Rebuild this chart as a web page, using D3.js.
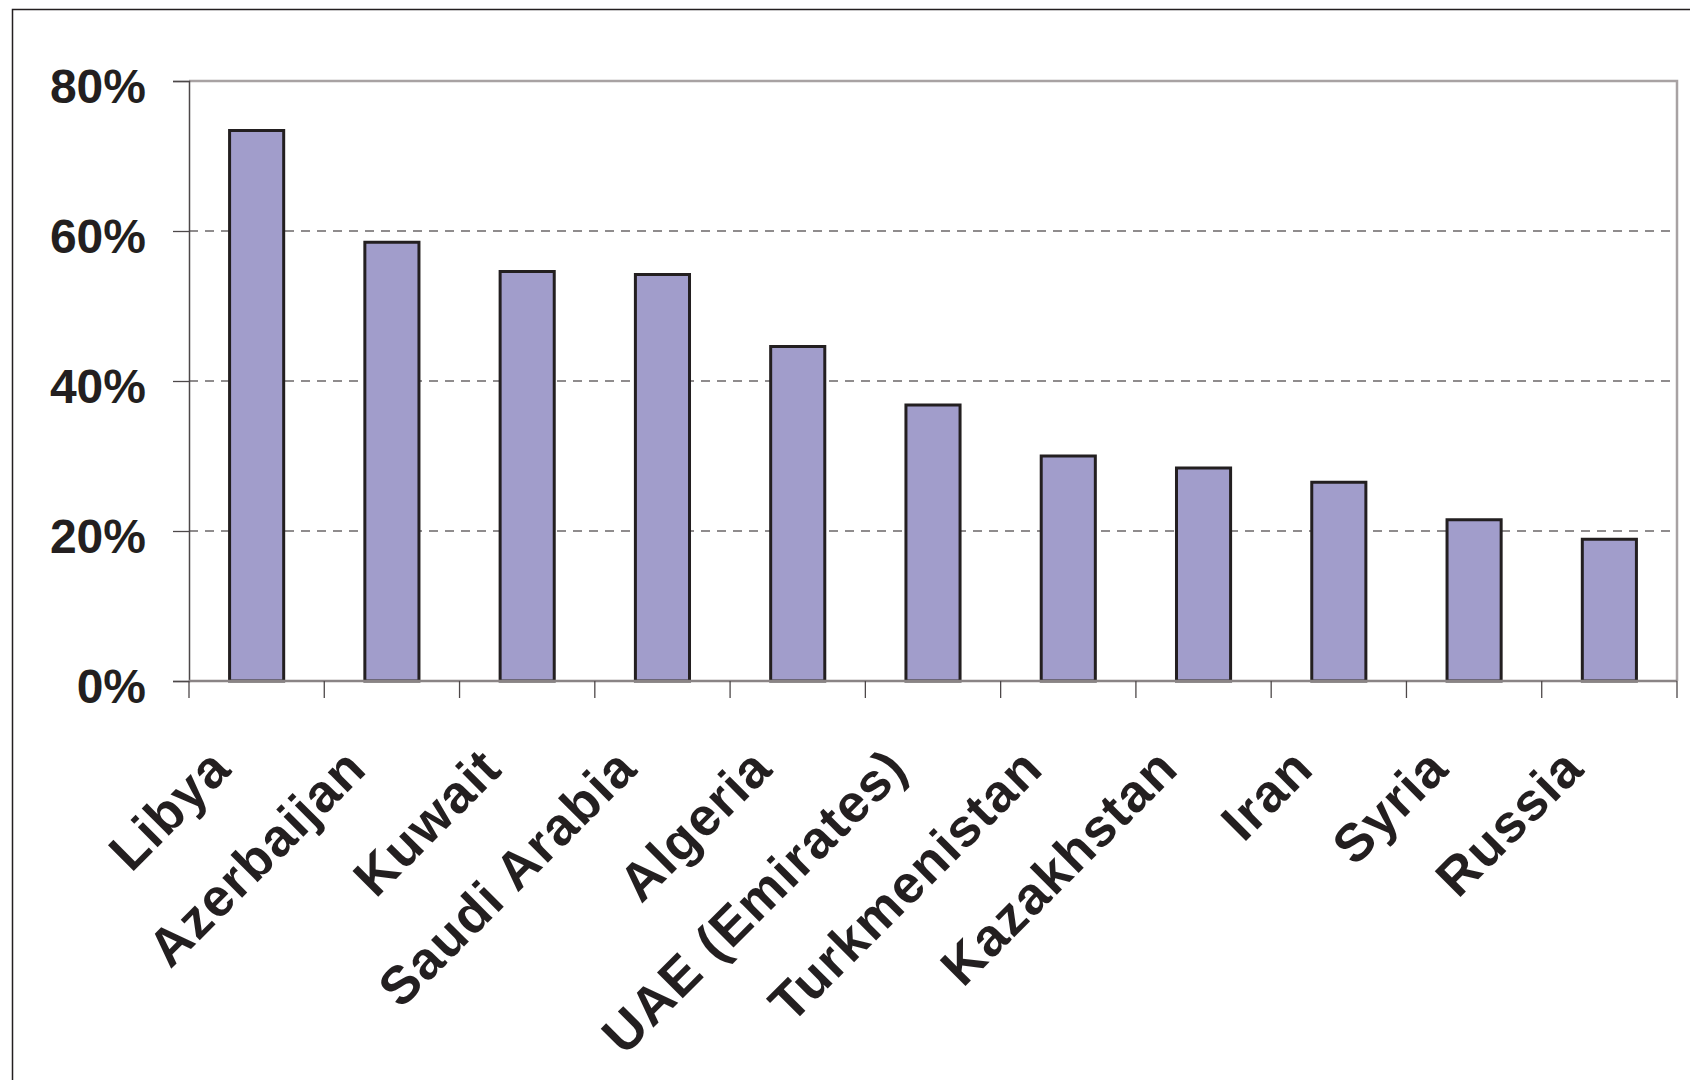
<!DOCTYPE html>
<html>
<head>
<meta charset="utf-8">
<script src="https://cdn.jsdelivr.net/npm/d3@7"></script>
<style>
  body { margin: 0; background: #fff; }
  text { font-family: "Liberation Sans", Arial, Helvetica, sans-serif; font-weight: bold; fill: #231f20; }
</style>
</head>
<body>
<script>
const countries = ["Libya", "Azerbaijan", "Kuwait", "Saudi Arabia", "Algeria", "UAE (Emirates)",
                   "Turkmenistan", "Kazakhstan", "Iran", "Syria", "Russia"];
const shares = [0.734, 0.585, 0.546, 0.542, 0.446, 0.368, 0.300, 0.284, 0.265, 0.215, 0.189];
const yTicks = [0, 0.2, 0.4, 0.6, 0.8];

const width = 1690, height = 1080;
const plotLeft = 189, plotRight = 1677, plotTop = 81, plotBottom = 681;

const svg = d3.select("body").append("svg")
  .attr("width", width)
  .attr("height", height);

// outer frame (runs off the right and bottom edges)
svg.append("path")
  .attr("d", `M12.5,${height} L12.5,9.5 L${width},9.5`)
  .attr("fill", "none")
  .attr("stroke", "#231f20")
  .attr("stroke-width", 1.5);

const x = d3.scaleBand().domain(countries).range([plotLeft, plotRight])
  .paddingInner(0.6).paddingOuter(0.3);
const y = d3.scaleLinear().domain([0, 0.8]).range([plotBottom, plotTop]);

// dashed gridlines
svg.append("g").selectAll("line")
  .data(yTicks.filter(d => d > 0 && d < 0.8))
  .enter().append("line")
  .attr("x1", plotLeft).attr("x2", plotRight)
  .attr("y1", d => y(d)).attr("y2", d => y(d))
  .attr("stroke", "#6b6768")
  .attr("stroke-width", 1.3)
  .attr("stroke-dasharray", "9,7");

// top and right plot border
svg.append("path")
  .attr("d", `M${plotLeft},${y(0.8)} L${plotRight},${y(0.8)} L${plotRight},${plotBottom}`)
  .attr("fill", "none")
  .attr("stroke", "#a8a2a3")
  .attr("stroke-width", 2.5);

// bars
svg.append("g").selectAll("rect")
  .data(countries)
  .enter().append("rect")
  .attr("x", d => x(d))
  .attr("width", x.bandwidth())
  .attr("y", (d, i) => y(shares[i]))
  .attr("height", (d, i) => y(0) - y(shares[i]))
  .attr("fill", "#a19dcb")
  .attr("stroke", "#231f20")
  .attr("stroke-width", 3);

// y axis
const yAxis = d3.axisLeft(y)
  .tickValues(yTicks)
  .tickFormat(d3.format(".0%"))
  .tickSize(16)
  .tickPadding(27);

const ga = svg.append("g")
  .attr("transform", `translate(${plotLeft},0)`)
  .call(yAxis);
ga.select(".domain").attr("stroke", "#4d4849").attr("stroke-width", 1.5);
ga.selectAll(".tick line").attr("stroke", "#4d4849").attr("stroke-width", 1.3);
ga.selectAll(".tick text")
  .attr("dy", "0.44em")
  .style("font-size", "48px")
  .style("font-family", "'Liberation Sans', Arial, sans-serif")
  .style("font-weight", "bold")
  .attr("fill", "#231f20");

// x axis line
svg.append("line")
  .attr("x1", plotLeft).attr("x2", plotRight)
  .attr("y1", plotBottom).attr("y2", plotBottom)
  .attr("stroke", "#8a8485")
  .attr("stroke-width", 2.5);

// category boundary ticks
const gap = (x.step() - x.bandwidth()) / 2;
const bounds = countries.map(c => x(c) - gap).concat([x(countries[countries.length - 1]) + x.bandwidth() + gap]);
svg.append("g").selectAll("line")
  .data(bounds)
  .enter().append("line")
  .attr("x1", d => d).attr("x2", d => d)
  .attr("y1", plotBottom).attr("y2", plotBottom + 17)
  .attr("stroke", "#4d4849")
  .attr("stroke-width", 1.3);

// rotated category labels
svg.append("g").selectAll("text")
  .data(countries)
  .enter().append("text")
  .attr("text-anchor", "end")
  .attr("transform", d => `translate(${x(d) + x.bandwidth() / 2 - 23},771) rotate(-45)`)
  .style("font-size", "53px")
  .style("letter-spacing", "1.3px")
  .text(d => d);
</script>
</body>
</html>
